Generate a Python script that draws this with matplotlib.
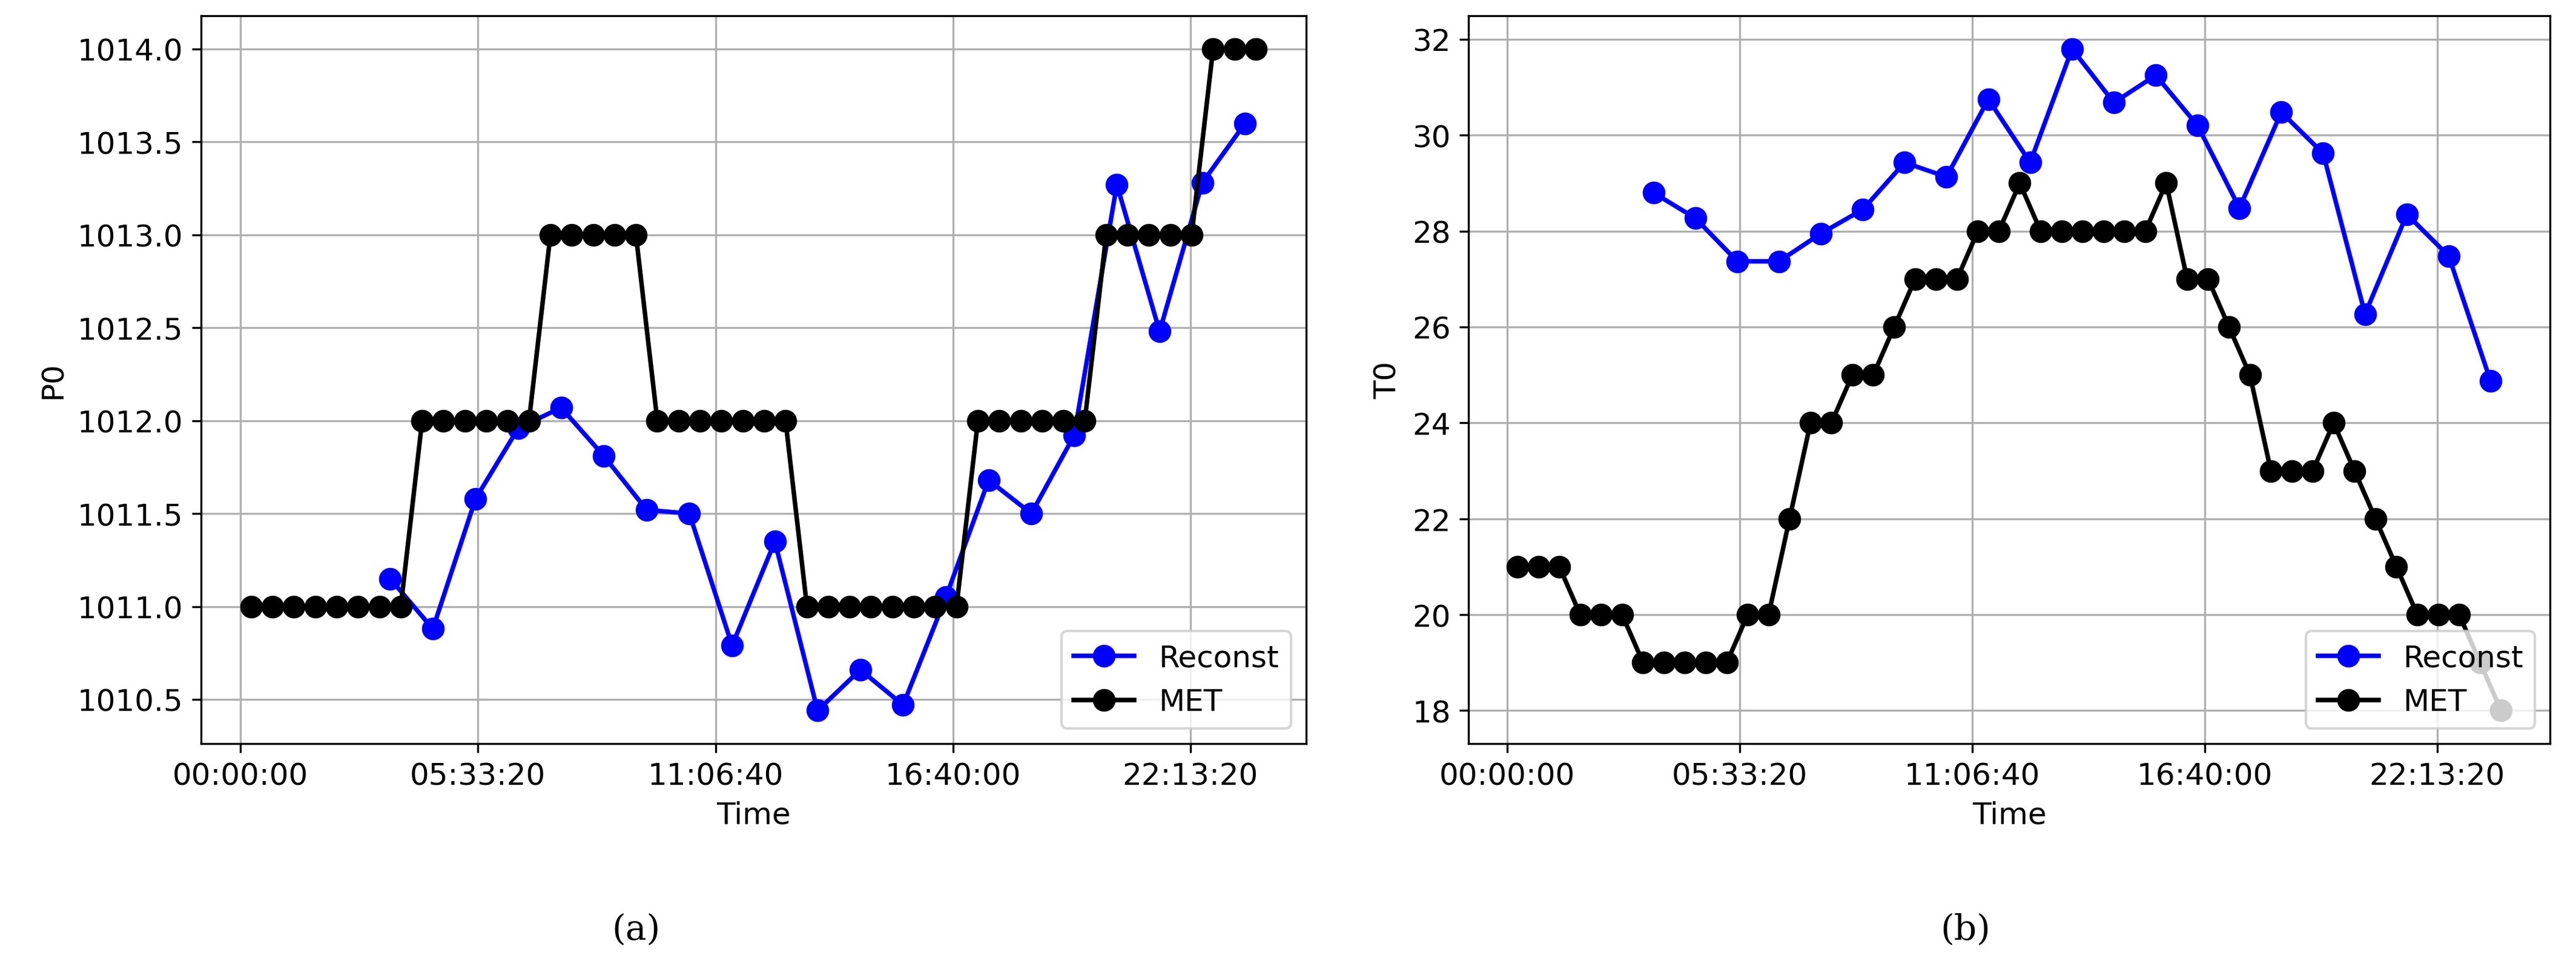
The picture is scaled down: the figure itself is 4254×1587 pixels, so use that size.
import matplotlib
matplotlib.use("Agg")
import matplotlib.pyplot as plt
from matplotlib.ticker import FuncFormatter, FormatStrFormatter, MultipleLocator

met_t = [900 + 1800 * i for i in range(48)]
rec_t = [12600 + 3600 * i for i in range(21)]

met_p = [1011]*8 + [1012]*6 + [1013]*5 + [1012]*7 + [1011]*8 + [1012]*6 + [1013]*5 + [1014]*3
rec_p = [1011.15, 1010.88, 1011.58, 1011.96, 1012.07, 1011.81, 1011.52, 1011.50, 1010.79, 1011.35,
         1010.44, 1010.66, 1010.47, 1011.05, 1011.68, 1011.50, 1011.92, 1013.27, 1012.48, 1013.28, 1013.60]

met_temp = [21, 21, 21, 20, 20, 20, 19, 19, 19, 19, 19, 20, 20, 22, 24, 24, 25, 25, 26, 27, 27, 27, 28, 28,
            29, 28, 28, 28, 28, 28, 28, 29, 27, 27, 26, 25, 23, 23, 23, 24, 23, 22, 21, 20, 20, 20, 19, 18]
rec_temp = [28.8, 28.27, 27.37, 27.37, 27.95, 28.45, 29.43, 29.13, 30.75, 29.43, 31.8, 30.68, 31.25,
            30.2, 28.48, 30.48, 29.62, 26.27, 28.35, 27.48, 24.87]

def hms(x, pos):
    x = int(round(x))
    return "%02d:%02d:%02d" % (x // 3600, (x % 3600) // 60, x % 60)

plt.rcParams['font.size'] = 12
fig = plt.figure(figsize=(14.18, 5.293), dpi=300)
ax1 = fig.add_axes([0.078, 0.226, 0.429, 0.757])
ax2 = fig.add_axes([0.570, 0.226, 0.420, 0.757])

for ax, rec, met, lab in [(ax1, rec_p, met_p, "P0"), (ax2, rec_temp, met_temp, "T0")]:
    ax.plot(rec_t, rec, 'o-', color='blue', label='Reconst', markersize=8, linewidth=1.8)
    ax.plot(met_t, met, 'o-', color='black', label='MET', markersize=8, linewidth=1.8)
    ax.grid(True)
    ax.set_xlabel("Time")
    ax.set_ylabel(lab)
    ax.xaxis.set_major_locator(MultipleLocator(20000))
    ax.xaxis.set_major_formatter(FuncFormatter(hms))
    ax.legend(loc='lower right')
ax1.yaxis.set_major_formatter(FormatStrFormatter('%.1f'))
ax1.yaxis.set_major_locator(MultipleLocator(0.5))
ax2.yaxis.set_major_locator(MultipleLocator(2))

fig.text(0.247, 0.033, "(a)", ha='center', va='center', family='DejaVu Serif', fontsize=14)
fig.text(0.763, 0.033, "(b)", ha='center', va='center', family='DejaVu Serif', fontsize=14)
fig.savefig("out.png", dpi=300)
